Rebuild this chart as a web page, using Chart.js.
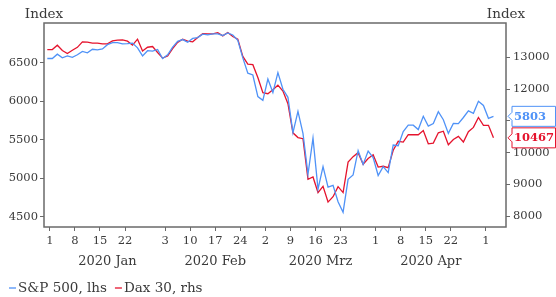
<!DOCTYPE html>
<html>
<head>
<meta charset="utf-8">
<script src="https://cdn.jsdelivr.net/npm/chart.js@4.4.1/dist/chart.umd.min.js"></script>
<style>
  html, body { margin: 0; padding: 0; background: #fff; }
  canvas { display: block; }
</style>
</head>
<body>
<canvas id="chart" width="556" height="297"></canvas>
<script>
// one value per weekday, 31 Dec 2019 .. 4 May 2020 (holidays keep the last close)
const spx = [
	6554, 6554, 6610, 6563, 6587, 6569, 6602, 6646, 6628, 6674,
	6665, 6678, 6734, 6760, 6761, 6744, 6746, 6754, 6693, 6588,
	6655, 6650, 6671, 6554, 6602, 6701, 6777, 6800, 6764, 6814,
	6826, 6870, 6860, 6873, 6873, 6853, 6886, 6860, 6789, 6562,
	6364, 6340, 6060, 6011, 6288, 6112, 6370, 6155, 6050, 5591,
	5867, 5581, 5051, 5520, 4859, 5150, 4884, 4907, 4695, 4558,
	4985, 5043, 5359, 5178, 5352, 5267, 5035, 5150, 5072, 5430,
	5421, 5606, 5688, 5688, 5631, 5804, 5676, 5710, 5863, 5759,
	5582, 5711, 5708, 5788, 5874, 5843, 5999, 5944, 5777, 5803
];
const dax = [
	13249, 13249, 13386, 13219, 13127, 13227, 13320, 13495, 13483, 13452,
	13456, 13432, 13429, 13526, 13548, 13556, 13516, 13388, 13577, 13205,
	13324, 13345, 13157, 12982, 13045, 13282, 13478, 13575, 13514, 13494,
	13628, 13750, 13745, 13744, 13784, 13681, 13789, 13664, 13579, 13035,
	12790, 12775, 12367, 11890, 11858, 11985, 12128, 11945, 11542, 10625,
	10475, 10439, 9161, 9232, 8742, 8939, 8442, 8610, 8929, 8741,
	9701, 9874, 10001, 9633, 9816, 9936, 9545, 9571, 9526, 10075,
	10357, 10333, 10565, 10565, 10565, 10697, 10280, 10302, 10626, 10676,
	10250, 10415, 10513, 10336, 10660, 10796, 11108, 10862, 10862, 10467
];
const seriesLabels = ['S&P 500, lhs', 'Dax 30, rhs'];

// weekday index of each date tick and its label
const tickDays = [1, 6, 11, 16, 24, 29, 34, 39, 44, 49, 54, 59, 66, 71, 76, 81, 88];
const tickLabels = ['1', '8', '15', '22', '3', '10', '17', '24', '2', '9', '16', '23', '1', '8', '15', '22', '1'];
const monthDays = [12, 33.5, 54.5, 76.5];
const monthLabels = ['2020 Jan', '2020 Feb', '2020 Mrz', '2020 Apr'];
const leftTicks = [4500, 5000, 5500, 6000, 6500];
const rightTicks = [8000, 9000, 10000, 11000, 12000, 13000];

const family = "'DejaVu Serif', serif";
const textColor = '#3a3a3a';
const axisColor = '#6a6a6a';
const blue = '#4f92f7';
const red = '#e5132d';

function toPoints(values) {
	return values.map((v, i) => ({ x: i, y: v }));
}

// frame, "Index" titles and the legend
const framePlugin = {
	id: 'frame',
	beforeDatasetsDraw(chart) {
		const { ctx, chartArea: a } = chart;
		ctx.save();
		ctx.strokeStyle = axisColor;
		ctx.lineWidth = 1.5;
		ctx.strokeRect(a.left, a.top, a.right - a.left, a.bottom - a.top);
		ctx.fillStyle = textColor;
		ctx.font = '13.5px ' + family;
		ctx.textAlign = 'center';
		ctx.textBaseline = 'middle';
		ctx.fillText('Index', a.left, 14);
		ctx.fillText('Index', a.right, 14);

		// legend
		let x = 9;
		const y = 288;
		ctx.textAlign = 'left';
		chart.data.datasets.forEach(ds => {
			ctx.strokeStyle = ds.borderColor;
			ctx.lineWidth = 1.3;
			ctx.beginPath();
			ctx.moveTo(x, y);
			ctx.lineTo(x + 7, y);
			ctx.stroke();
			ctx.fillStyle = textColor;
			ctx.fillText(ds.label, x + 9, y);
			x += 9 + ctx.measureText(ds.label).width + 8;
		});
		ctx.restore();
	}
};

// last value boxes on the right
const lastValuePlugin = {
	id: 'lastValue',
	afterDatasetsDraw(chart) {
		const ctx = chart.ctx;
		ctx.save();
		chart.data.datasets.forEach(ds => {
			const last = ds.data[ds.data.length - 1].y;
			const y = chart.scales[ds.yAxisID].getPixelForValue(last);
			ctx.beginPath();
			ctx.moveTo(508, y);
			ctx.lineTo(512, y - 4);
			ctx.lineTo(512, y - 10);
			ctx.lineTo(555.5, y - 10);
			ctx.lineTo(555.5, y + 10);
			ctx.lineTo(512, y + 10);
			ctx.lineTo(512, y + 4);
			ctx.closePath();
			ctx.fillStyle = '#fff';
			ctx.fill();
			ctx.strokeStyle = ds.borderColor;
			ctx.lineWidth = 1;
			ctx.stroke();
			ctx.fillStyle = ds.borderColor;
			ctx.font = 'bold 11.5px ' + family;
			ctx.textAlign = 'left';
			ctx.textBaseline = 'middle';
			ctx.fillText(String(last), 514, y + 0.5);
		});
		ctx.restore();
	}
};

const tickFont = { family: family, size: 11.5 };
const monthFont = { family: family, size: 13 };

new Chart(document.getElementById('chart'), {
	type: 'line',
	data: {
		datasets: [
			{
				label: seriesLabels[0],
				data: toPoints(spx),
				yAxisID: 'yl',
				borderColor: blue,
				borderWidth: 1.3,
				pointRadius: 0,
				tension: 0
			},
			{
				label: seriesLabels[1],
				data: toPoints(dax),
				yAxisID: 'yr',
				borderColor: red,
				borderWidth: 1.3,
				pointRadius: 0,
				tension: 0
			}
		]
	},
	options: {
		responsive: false,
		animation: false,
		devicePixelRatio: 1,
		layout: { padding: { top: 23, bottom: 26, left: 0, right: 0 } },
		plugins: {
			legend: { display: false },
			tooltip: { enabled: false }
		},
		scales: {
			x: {
				type: 'linear',
				position: 'bottom',
				min: -0.66,
				max: 91.5,
				afterBuildTicks: s => { s.ticks = tickDays.map(d => ({ value: d - 0.5 })); },
				afterFit: s => { s.height = 24; },
				grid: { drawOnChartArea: false, drawTicks: true, tickLength: 4, color: axisColor },
				border: { display: false },
				ticks: {
					autoSkip: false, maxRotation: 0, padding: 3,
					color: textColor, font: tickFont,
					callback: (v, i) => tickLabels[i]
				}
			},
			months: {
				type: 'linear',
				axis: 'x',
				position: 'bottom',
				min: -0.66,
				max: 91.5,
				afterBuildTicks: s => { s.ticks = monthDays.map(d => ({ value: d })); },
				afterFit: s => { s.height = 20; },
				grid: { display: false, drawTicks: false },
				border: { display: false },
				ticks: {
					autoSkip: false, maxRotation: 0, padding: 3,
					color: textColor, font: monthFont,
					callback: (v, i) => monthLabels[i]
				}
			},
			yl: {
				type: 'linear',
				position: 'left',
				min: 4366,
				max: 7015,
				afterBuildTicks: s => { s.ticks = leftTicks.map(v => ({ value: v })); },
				afterFit: s => { s.width = 44; },
				grid: { drawOnChartArea: false, drawTicks: true, tickLength: 4, color: axisColor },
				border: { display: false },
				ticks: { padding: 2, color: textColor, font: tickFont, callback: v => String(v) }
			},
			yr: {
				type: 'linear',
				position: 'right',
				min: 7656,
				max: 14088,
				afterBuildTicks: s => { s.ticks = rightTicks.map(v => ({ value: v })); },
				afterFit: s => { s.width = 50; },
				grid: { drawOnChartArea: false, drawTicks: true, tickLength: 4, color: axisColor },
				border: { display: false },
				ticks: { padding: 3, color: textColor, font: tickFont, callback: v => String(v) }
			}
		}
	},
	plugins: [framePlugin, lastValuePlugin]
});
</script>
</body>
</html>
